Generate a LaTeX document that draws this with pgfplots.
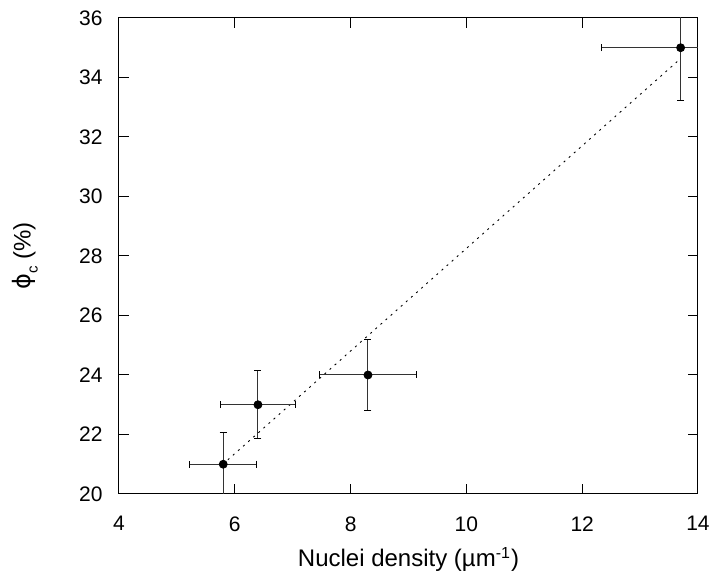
\documentclass[border=0pt]{standalone}
\usepackage{fontspec}
\setmainfont{Liberation Sans}
\newfontfamily\dejavu{DejaVu Sans}
\usepackage{pgfplots}
\pgfplotsset{compat=1.18}
\begin{document}
\begin{tikzpicture}
\begin{axis}[
  scale only axis, width=289.5pt, height=238pt,
  xmin=4, xmax=14, ymin=20, ymax=36,
  xtick={4,6,...,14}, ytick={20,22,...,36},
  tick align=inside, major tick length=5pt,
  axis line style={line width=0.5pt},
  every tick/.style={black, line width=0.5pt},
  /pgf/number format/assume math mode=true,
  tick label style={font=\fontsize{10.5}{12}\selectfont},
  xticklabel style={anchor=north, inner sep=0pt, yshift=-11pt},
  yticklabel style={anchor=east, inner sep=0pt, xshift=-8pt},
  xlabel={Nuclei density (µm\textsuperscript{-1})},
  ylabel={{\dejavu ϕ}\raisebox{-0.55ex}{\fontsize{7.5}{8}\selectfont c} (\%)},
  label style={font=\fontsize{12}{14}\selectfont},
  xlabel style={at={([yshift=-36.5pt]rel axis cs:0.5,0)}, anchor=base},
  ylabel style={at={([xshift=-47pt]rel axis cs:0,0.5)}, anchor=center},
]
\addplot[black, line width=0.45pt, dash pattern=on 1pt off 2.4pt]
  coordinates {(5.88,21.15) (13.65,34.55)};
\addplot[only marks, mark=*, mark size=2pt, black,
  error bars/.cd, x dir=both, x explicit, y dir=both, y explicit,
  error bar style={line width=0.5pt, black!80},
  error mark options={rotate=90, line width=0.5pt, mark size=1.75pt, black}]
  coordinates {
    (5.8,21)  +- (0.58,1.05)
    (6.4,23)  +- (0.64,1.15)
    (8.3,24)  +- (0.83,1.2)
    (13.7,35) +- (1.37,1.76)
  };
\end{axis}
\pgfresetboundingbox
\path[use as bounding box] ([xshift=-59.5pt,yshift=-40.5pt]current axis.south west) rectangle ([xshift=8pt,yshift=9pt]current axis.north east);
\end{tikzpicture}
\end{document}
